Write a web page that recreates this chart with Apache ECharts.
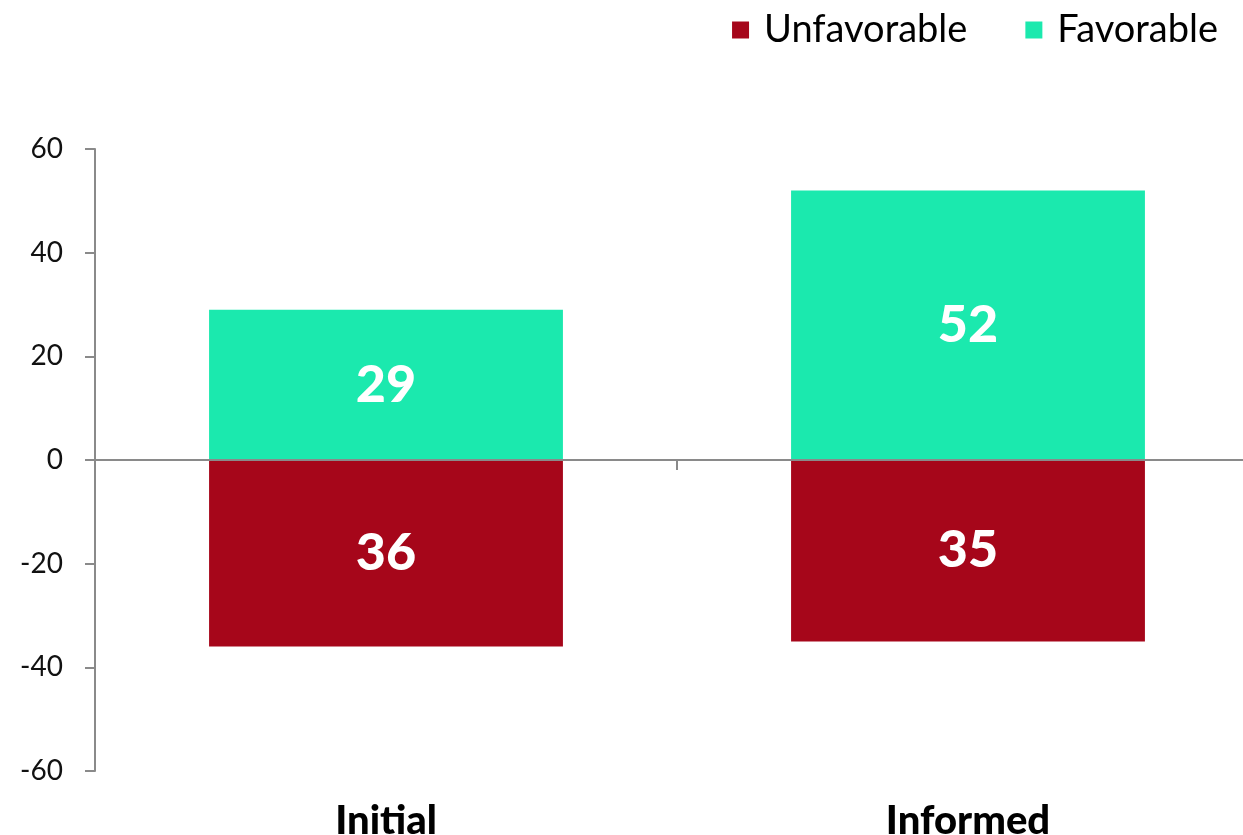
<!DOCTYPE html>
<html>
<head>
<meta charset="utf-8">
<script src="https://cdn.jsdelivr.net/npm/echarts@6/dist/echarts.min.js"></script>
<style>
html,body{margin:0;padding:0;background:#fff;}
#chart{width:1243px;height:835px;}
</style>
</head>
<body>
<div id="chart"></div>
<script>
const categories = ['Initial', 'Informed'];
const unfavorable = [-36, -35];
const favorable = [29, 52];
const yTicks = { min: -60, max: 60, interval: 20 };

const RED = '#A6061A';
const TEAL = '#1BE9AE';
const GRAY = '#8A8A8A';

const chart = echarts.init(document.getElementById('chart'));
const labelStyle = {
  show: true,
  position: 'inside',
  color: '#fff',
  fontFamily: 'Lato',
  fontWeight: 900,
  fontSize: 52,
  formatter: p => Math.abs(p.value)
};
chart.setOption({
  animation: false,
  legend: {
    right: 20,
    top: 6,
    itemWidth: 17,
    itemHeight: 17,
    itemGap: 58,
    icon: 'rect',
    textStyle: { fontFamily: 'Lato', fontSize: 38, color: '#000', padding: [0, 0, 0, 10] },
    data: ['Unfavorable', 'Favorable']
  },
  grid: { left: 95, top: 149, width: 1164, height: 622, outerBoundsMode: 'none', containLabel: false },
  xAxis: [
    {
      type: 'category',
      data: categories,
      position: 'bottom',
      axisLine: { show: false, onZero: false },
      axisTick: { show: false },
      axisLabel: { fontFamily: 'Lato', fontWeight: 900, fontSize: 40, color: '#000', margin: 30, verticalAlign: 'top' }
    },
    {
      type: 'category',
      data: categories,
      position: 'bottom',
      z: 10,
      axisLine: { show: true, onZero: true, lineStyle: { color: GRAY, width: 2 } },
      axisTick: { show: true, length: 10, lineStyle: { color: GRAY, width: 2 } },
      axisLabel: { show: false }
    }
  ],
  yAxis: {
    type: 'value',
    min: yTicks.min,
    max: yTicks.max,
    interval: yTicks.interval,
    splitLine: { show: false },
    axisLine: { show: true, lineStyle: { color: GRAY, width: 2 } },
    axisTick: { show: true, length: 10, lineStyle: { color: GRAY, width: 2 } },
    axisLabel: { fontFamily: 'Lato', fontSize: 28, color: '#111', margin: 32 }
  },
  series: [
    {
      name: 'Unfavorable',
      type: 'bar',
      stack: 'total',
      xAxisIndex: 0,
      barWidth: '60.8%',
      itemStyle: { color: RED },
      label: labelStyle,
      data: unfavorable
    },
    {
      name: 'Favorable',
      type: 'bar',
      stack: 'total',
      xAxisIndex: 0,
      barWidth: '60.8%',
      itemStyle: { color: TEAL },
      label: labelStyle,
      data: favorable
    }
  ]
});
</script>
</body>
</html>
